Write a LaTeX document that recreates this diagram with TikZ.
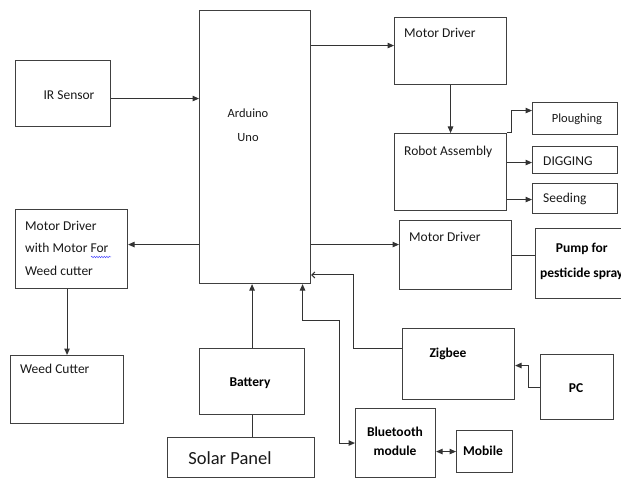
\documentclass[tikz,border=0pt]{standalone}
\usepackage{fontspec}
\setmainfont{Carlito}
\usetikzlibrary{arrows.meta,decorations.pathmorphing}
\begin{document}
\begin{tikzpicture}[x=1pt,y=-1pt,
  box/.style={draw=black!75,line width=1.1pt,anchor=north west,inner sep=0pt},
  txt/.style={font=\fontsize{13.5}{22.5}\selectfont,inner sep=0pt,text=black!90},
  btxt/.style={font=\fontsize{13.5}{19}\selectfont\bfseries,inner sep=0pt,align=center},
  ln/.style={draw=black!80,line width=1pt},
  arr/.style={ln,-{Triangle[length=6.5pt,width=5.5pt]}},
  darr/.style={ln,{Triangle[length=6.5pt,width=5.5pt]}-{Triangle[length=6.5pt,width=5.5pt]}},
  sarr/.style={ln,-{Straight Barb[length=3pt,width=6pt]}}]
\clip (0,0) rectangle (621,478);
\fill[white] (0,0) rectangle (621,478);
% boxes
\node[box,minimum width=111pt,minimum height=273pt] (ard) at (199,10) {};
\node[box,minimum width=95pt,minimum height=66pt] (ir) at (15,60) {};
\node[box,minimum width=112pt,minimum height=79pt] (mdw) at (15,209) {};
\node[box,minimum width=113pt,minimum height=68pt] (wc) at (10,355) {};
\node[box,minimum width=105pt,minimum height=66pt] (bat) at (199,348) {};
\node[box,minimum width=147pt,minimum height=40pt] (sol) at (167,437) {};
\node[box,minimum width=112pt,minimum height=67pt] (md1) at (394,17) {};
\node[box,minimum width=112pt,minimum height=77pt] (ra) at (394,133) {};
\node[box,minimum width=85pt,minimum height=32pt] (pl) at (532,102) {};
\node[box,minimum width=85pt,minimum height=27pt] (dig) at (532,146) {};
\node[box,minimum width=85pt,minimum height=30pt] (seed) at (532,183) {};
\node[box,minimum width=112pt,minimum height=69pt] (md2) at (399,220) {};
\node[box,minimum width=100pt,minimum height=70pt] (pump) at (535,228) {};
\node[box,minimum width=112pt,minimum height=71pt] (zig) at (402,328) {};
\node[box,minimum width=73pt,minimum height=65pt] (pc) at (540,354) {};
\node[box,minimum width=80pt,minimum height=69pt] (bt) at (355,408) {};
\node[box,minimum width=56pt,minimum height=42pt] (mob) at (456,430) {};
% texts
\node[txt,font=\fontsize{12.5}{24}\selectfont,align=center] (ardT) at (248,125) {Arduino\\Uno};
\node[txt] (irT) at (69,95) {IR Sensor};
\node[txt,anchor=west,align=left] (mdwT) at (25,248) {Motor Driver\\with Motor For\\Weed cutter};
\node[txt,anchor=west] (wcT) at (20,369) {Weed Cutter};
\node[btxt] (batT) at (250,383) {Battery};
\node[txt,font=\fontsize{18.5}{22}\selectfont] (solT) at (230,458) {Solar Panel};
\node[txt,anchor=west] (md1T) at (404,33) {Motor Driver};
\node[txt,anchor=west] (raT) at (404,152) {Robot Assembly};
\node[txt,font=\fontsize{12.5}{15}\selectfont] (plT) at (577,119) {Ploughing};
\node[txt,anchor=west] (digT) at (543,161) {DIGGING};
\node[txt,anchor=west] (seedT) at (543,199) {Seeding};
\node[txt,anchor=west] (md2T) at (409,237) {Motor Driver};
\node[btxt,font=\fontsize{13.5}{25}\selectfont\bfseries,anchor=west] (pumpT) at (540,261) {Pump for\\pesticide spray};
\node[btxt] (zigT) at (448,354) {Zigbee};
\node[btxt] (pcT) at (576,388) {PC};
\node[btxt] (btT) at (395,441) {Bluetooth\\module};
\node[btxt] (mobT) at (483,451) {Mobile};
% spell-check underline
\draw[blue!70,line width=0.5pt,decorate,decoration={snake,amplitude=0.7pt,segment length=2.5pt}] (91,257) -- (111,257);
% connectors
\draw[arr] ([yshift=-5pt]ir.east) -- ([yshift=-5pt]ir.east -| ard.west);
\coordinate (m1in) at ([yshift=5.5pt]md1.west);
\draw[arr] (m1in -| ard.east) -- (m1in);
\draw[arr] (md1.south) -- (md1.south |- ra.north);
\coordinate (plin) at ([yshift=8pt]pl.west);
\draw[arr] (ra.north east) -- ++(4,0) |- (plin);
\coordinate (digin) at ([yshift=-2.5pt]dig.west);
\draw[arr] (digin -| ra.east) -- (digin);
\coordinate (seedin) at ([yshift=-1pt]seed.west);
\draw[arr] (seedin -| ra.east) -- (seedin);
\coordinate (m2in) at ([yshift=10.5pt]md2.west);
\draw[arr] (m2in -| ard.east) -- (m2in);
\draw[ln] (md2.east) -- (md2.east -| pump.west);
\coordinate (mdwin) at ([yshift=4.5pt]mdw.east);
\draw[arr] (mdwin -| ard.west) -- (mdwin);
\draw[arr] (wc.north |- mdw.south) -- (wc.north);
\draw[arr] (bat.north) -- (bat.north |- ard.south);
\draw[ln] (bat.south) -- (bat.south |- sol.north);
\coordinate (btk) at (339,320);
\coordinate (ardb) at ([xshift=47.5pt]ard.south);
\draw[darr] (bt.west) -| (btk) -| (ardb);
\coordinate (zout) at ([yshift=15.5pt]zig.west);
\coordinate (zk) at (353,275);
\draw[sarr] (zout) -| (zk) -- (zk -| ard.east);
\coordinate (zin) at ([yshift=-1.5pt]zig.east);
\draw[arr] (pc.west) -- ++(-12,0) |- (zin);
\draw[darr] (mob.west -| bt.east) -- (mob.west);
\end{tikzpicture}
\end{document}
